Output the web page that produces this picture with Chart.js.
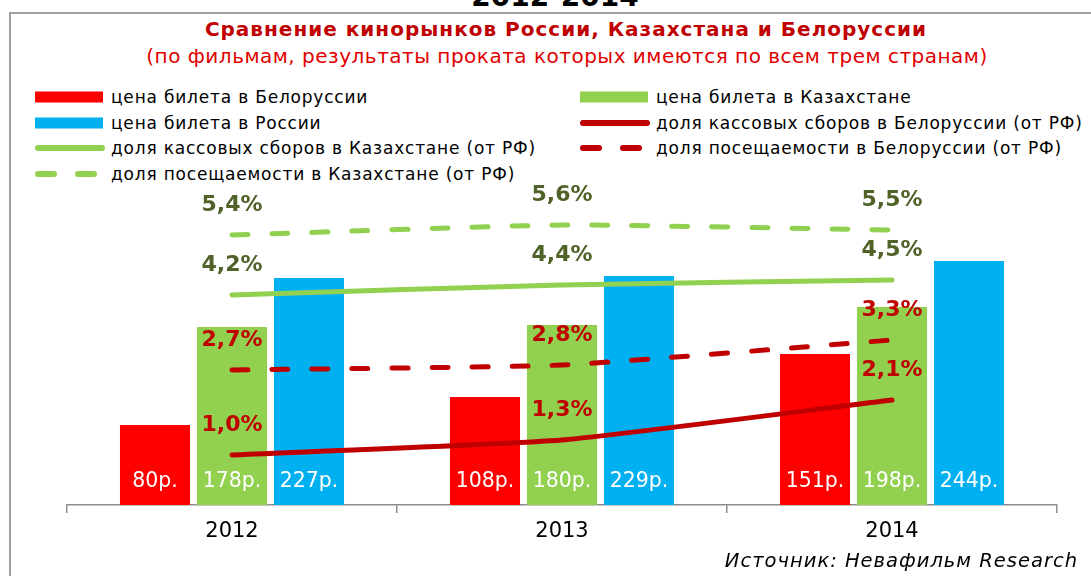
<!DOCTYPE html>
<html>
<head>
<meta charset="utf-8">
<script src="https://cdn.jsdelivr.net/npm/chart.js@4.4.1/dist/chart.umd.min.js"></script>
<style>
  body { margin: 0; background: #fff; font-family: "DejaVu Sans", Verdana, sans-serif; }
  #wrap { position: relative; width: 1091px; height: 576px; overflow: hidden; }
  #frame { position: absolute; left: 9px; top: 12px; width: 1100px; height: 600px; border: 2px solid #a0a0a0; box-sizing: border-box; }
  #top { position: absolute; left: 0; width: 1110px; top: -20px; text-align: center; font-weight: bold; font-size: 28px; color: #000; }
  #title { position: absolute; left: 0; width: 1132px; top: 17px; text-align: center; font-weight: bold; font-size: 20px; letter-spacing: 1px; color: #c00000; }
  #subtitle { position: absolute; left: 0; width: 1134px; top: 44px; text-align: center; font-size: 20px; letter-spacing: 0.5px; color: #e00000; }
  #source { position: absolute; right: 13px; top: 549px; font-style: italic; font-size: 19.5px; letter-spacing: 1px; color: #000; }
  .item { position: absolute; height: 24px; line-height: 24px; font-size: 17px; letter-spacing: 0.8px; color: #000; white-space: nowrap; display: flex; align-items: center; }
  .mk { width: 70px; height: 24px; position: relative; margin-right: 6px; }
  .mk div { position: absolute; top: 50%; transform: translateY(-50%); }
  canvas { position: absolute; left: 0; top: 0; }
</style>
</head>
<body>
<div id="wrap">
  <div id="top">2012-2014</div>
  <div id="frame"></div>
  <div id="title">Сравнение кинорынков России, Казахстана и Белоруссии</div>
  <div id="subtitle">(по фильмам, результаты проката которых имеются по всем трем странам)</div>
  <div id="legend"></div>
  <canvas id="chart" width="1091" height="576"></canvas>
  <div id="source">Источник: Невафильм Research</div>
</div>
<script>
// Годы
const years = ['2012', '2013', '2014'];

// Цена билета, руб.
const priceBY = [80, 108, 151];
const priceKZ = [178, 180, 198];
const priceRU = [227, 229, 244];

// Доли от РФ, %
const boxBY = [1.0, 1.3, 2.1];
const boxKZ = [4.2, 4.4, 4.5];
const attBY = [2.7, 2.8, 3.3];
const attKZ = [5.4, 5.6, 5.5];

const RED = '#ff0000', GREEN = '#92d050', BLUE = '#00b0f0', DARKRED = '#c00000', OLIVE = '#4f6228';

function bar(label, data, color) {
  return { type: 'bar', label: label, data: data, backgroundColor: color, yAxisID: 'y', order: 1,
    categoryPercentage: 0.7, barPercentage: 0.91 };
}
function line(label, data, color, dashed, labelColor) {
  return { type: 'line', label: label, data: data, borderColor: color, backgroundColor: color,
    borderWidth: 5, borderCapStyle: 'round', borderDash: dashed ? [16, 24] : [], pointRadius: 0,
    tension: 0.15, yAxisID: 'y2', order: 0, labelColor: labelColor, dashed: dashed };
}

const datasets = [
  bar('цена билета в Белоруссии', priceBY, RED),
  bar('цена билета в Казахстане', priceKZ, GREEN),
  bar('цена билета в России', priceRU, BLUE),
  line('доля кассовых сборов в Белоруссии (от РФ)', boxBY, DARKRED, false, DARKRED),
  line('доля кассовых сборов в Казахстане (от РФ)', boxKZ, GREEN, false, OLIVE),
  line('доля посещаемости в Белоруссии (от РФ)', attBY, DARKRED, true, DARKRED),
  line('доля посещаемости в Казахстане (от РФ)', attKZ, GREEN, true, OLIVE)
];

// Подписи значений
const valueLabels = {
  id: 'valueLabels',
  afterDatasetsDraw(chart) {
    const c = chart.ctx;
    c.save();
    c.textAlign = 'center';
    c.textBaseline = 'middle';
    chart.data.datasets.forEach((ds, i) => {
      const meta = chart.getDatasetMeta(i);
      meta.data.forEach((el, j) => {
        if (ds.type === 'bar') {
          c.font = '20.5px "DejaVu Sans"';
          c.fillStyle = '#fff';
          c.fillText(ds.data[j] + 'р.', el.x, el.base - 23);
        } else {
          c.font = 'bold 22px "DejaVu Sans"';
          c.fillStyle = ds.labelColor;
          c.fillText(ds.data[j].toFixed(1).replace('.', ',') + '%', el.x, el.y - 30);
        }
      });
    });
    c.restore();
  }
};

const chart = new Chart(document.getElementById('chart'), {
  data: { labels: years, datasets: datasets },
  plugins: [valueLabels],
  options: {
    responsive: false,
    animation: false,
    layout: { padding: { left: 67, right: 34, top: 175, bottom: 23 } },
    plugins: { legend: { display: false }, tooltip: { enabled: false } },
    scales: {
      x: {
        afterFit: s => { s.height = 48; },
        grid: { offset: true, drawOnChartArea: false, drawTicks: true, tickLength: 8, color: '#8c8c8c', lineWidth: 1.5 },
        border: { display: true, color: '#8c8c8c', width: 1.5 },
        ticks: { color: '#000', font: { family: 'DejaVu Sans', size: 21 }, padding: 6 }
      },
      y: { display: false, min: 0, max: 330 },
      y2: { display: false, min: 0, max: 6.6 }
    }
  }
});

// Легенда в две колонки
const legend = document.getElementById('legend');
chart.data.datasets.forEach((ds, i) => {
  const col = i % 2, row = Math.floor(i / 2);
  const item = document.createElement('div');
  item.className = 'item';
  item.style.left = (col ? 580 : 35) + 'px';
  item.style.top = (85 + row * 25.5) + 'px';
  let mk = '';
  if (ds.type === 'bar') {
    mk = `<div style="left:0;width:68px;height:11px;background:${ds.backgroundColor}"></div>`;
  } else if (!ds.dashed) {
    mk = `<div style="left:0;width:70px;height:6px;border-radius:3px;background:${ds.borderColor}"></div>`;
  } else {
    mk = `<div style="left:0;width:22px;height:6px;border-radius:3px;background:${ds.borderColor}"></div>
          <div style="left:40px;width:22px;height:6px;border-radius:3px;background:${ds.borderColor}"></div>`;
  }
  item.innerHTML = `<span class="mk">${mk}</span><span>${ds.label}</span>`;
  legend.appendChild(item);
});
</script>
</body>
</html>
